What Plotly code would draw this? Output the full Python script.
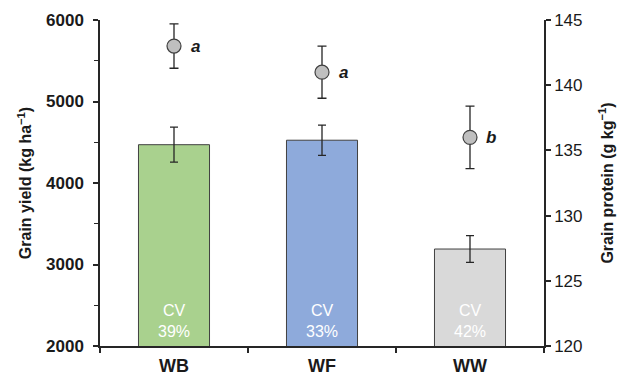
import plotly.graph_objects as go

categories = ["WB", "WF", "WW"]
yield_vals = [4470, 4525, 3190]
yield_err = [215, 185, 165]
protein_vals = [143.0, 141.0, 136.0]
protein_err = [1.7, 2.0, 2.4]
letters = ["a", "a", "b"]
cv_labels = ["39%", "33%", "42%"]
bar_colors = ["#a9d18e", "#8eaadb", "#d9d9d9"]

FONT = "Liberation Sans, Arial, sans-serif"
AX = "#262626"
TXT = "#1a1a1a"

fig = go.Figure()
fig.add_trace(go.Bar(
    x=categories, y=yield_vals, width=0.48,
    marker=dict(color=bar_colors, line=dict(color="#404040", width=1)),
    error_y=dict(type="data", array=yield_err, color=AX, thickness=1.3, width=4),
    showlegend=False,
))
fig.add_trace(go.Scatter(
    x=categories, y=protein_vals, yaxis="y2", mode="markers",
    marker=dict(size=14, color="#bfbfbf", line=dict(color="#404040", width=1.2)),
    error_y=dict(type="data", array=protein_err, color=AX, thickness=1.3, width=4.5),
    showlegend=False,
))

for c, l, p in zip(categories, letters, protein_vals):
    fig.add_annotation(x=c, y=p, yref="y2", text="<b><i>" + l + "</i></b>",
                       showarrow=False, xshift=21,
                       font=dict(family=FONT, size=17, color=TXT))
for c, cv in zip(categories, cv_labels):
    fig.add_annotation(x=c, y=2310, yref="y", text="CV<br>" + cv,
                       showarrow=False,
                       font=dict(family=FONT, size=16, color="#ffffff"))

fig.update_layout(
    width=621, height=376,
    margin=dict(l=100, r=77, t=20, b=30),
    paper_bgcolor="white", plot_bgcolor="white",
    font=dict(family=FONT, color=TXT),
    xaxis=dict(
        automargin=False,
        showline=True, linecolor=AX, linewidth=1.5,
        ticks="outside", tickson="boundaries", ticklen=5, tickcolor=AX, tickwidth=1.5,
        tickfont=dict(family=FONT, size=18, color=TXT),
        tickprefix="<b>", ticksuffix="</b>", ticklabelstandoff=3,
        showgrid=False, range=[-0.5, 2.5], fixedrange=True,
    ),
    yaxis=dict(
        automargin=False,
        range=[2000, 6000], dtick=1000,
        showline=True, linecolor=AX, linewidth=1.5,
        ticks="outside", ticklen=5, tickcolor=AX, tickwidth=1.5,
        minor=dict(ticks="outside", dtick=500, ticklen=4, tickcolor=AX, tickwidth=1.2),
        tickfont=dict(family=FONT, size=17, color=TXT),
        tickprefix="<b>", ticksuffix="</b>", ticklabelstandoff=6,
        showgrid=False, zeroline=False,
        title=dict(text="<b>Grain yield (kg ha<sup>−1</sup>)</b>",
                   font=dict(family=FONT, size=16, color=TXT), standoff=10),
    ),
    yaxis2=dict(
        automargin=False,
        range=[120, 145], dtick=5, overlaying="y", side="right", anchor="x",
        showline=True, linecolor=AX, linewidth=1.5,
        ticks="outside", ticklen=5, tickcolor=AX, tickwidth=1.5,
        tickfont=dict(family=FONT, size=17, color=TXT),
        showgrid=False, zeroline=False,
        title=dict(text="<b>Grain protein (g kg<sup>−1</sup>)</b>",
                   font=dict(family=FONT, size=16, color=TXT), standoff=20),
    ),
)

fig.write_html("out.html")
